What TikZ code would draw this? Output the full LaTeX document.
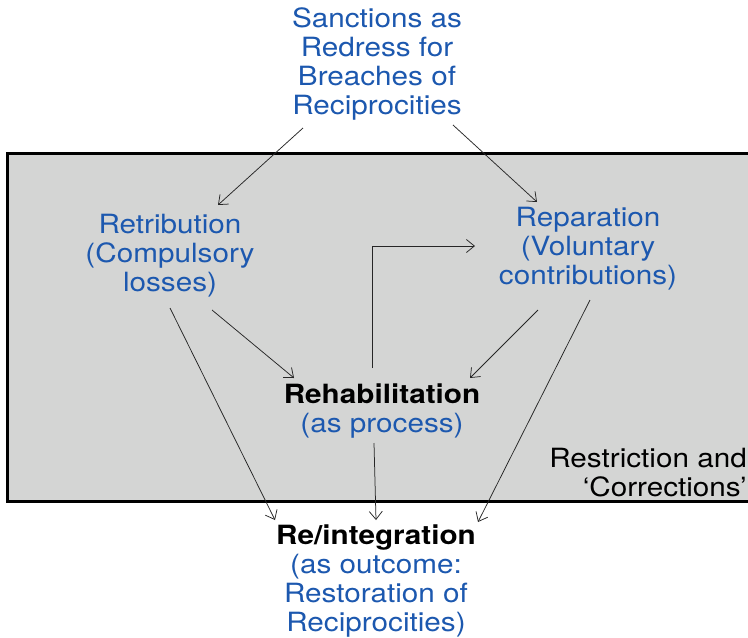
\documentclass[tikz,border=0pt]{standalone}
\usepackage{fontspec}
\setmainfont{TeX Gyre Heros}[FakeStretch=1.12]
\usetikzlibrary{arrows.meta,calc}
\definecolor{txtblue}{RGB}{28,88,175}
\definecolor{boxgray}{RGB}{212,213,212}
\tikzset{
  lbl/.style={align=center, inner sep=0pt, font=\fontsize{26.5}{29}\selectfont},
  bluelbl/.style={lbl, text=txtblue},
  arr/.style={line width=0.75pt, draw=black!85, -{Straight Barb[length=8pt,width=13pt,line width=0.75pt]}},
  frame/.style={line width=3pt, draw=black, fill=boxgray}
}
\begin{document}
\begin{tikzpicture}[x=1pt,y=-1pt]
\useasboundingbox (0,0) rectangle (748,638);
\fill[white] (0,0) rectangle (748,638);
\draw[frame] (7,153) rectangle (775,501);

\node[bluelbl] (top) at (377,64) {Sanctions as\\Redress for\\Breaches of\\Reciprocities};
\node[bluelbl] (retr) at (170,256) {Retribution\\(Compulsory\\losses)};
\node[bluelbl] (rep) at (588,249) {Reparation\\(Voluntary\\contributions)};
\node[lbl] (rehab) at (382,411) {\textbf{Rehabilitation}\\\textcolor{txtblue}{(as process)}};
\node[lbl, anchor=east, align=right] (restr) at (747,473) {Restriction and\\`Corrections'};
\node[lbl] (reint) at (376,581) {\textbf{Re/integration}\\\textcolor{txtblue}{(as outcome:}\\\textcolor{txtblue}{Restoration of}\\\textcolor{txtblue}{Reciprocities)}};

\draw[arr] ($(top)+(-74,64)$) -- ($(retr)+(48,-51)$);
\draw[arr] ($(top)+(76,61)$) -- ($(rep)+(-51,-47)$);
\draw[arr] ($(retr)+(42,54)$) -- ($(rehab)+(-88,-33)$);
\draw[arr] ($(rep)+(-50,61)$) -- ($(rehab)+(88,-33)$);
\draw[arr] ($(rehab)+(-10,-43)$) |- ($(rep)+(-113,-3)$);
\draw[arr] ($(retr)+(0,52)$) -- ($(reint)+(-101,-61)$);
\draw[arr] ($(rehab)+(-8,32)$) -- ($(reint)+(0,-61)$);
\draw[arr] ($(rep)+(2,51)$) -- ($(reint)+(102,-59)$);
\end{tikzpicture}
\end{document}
